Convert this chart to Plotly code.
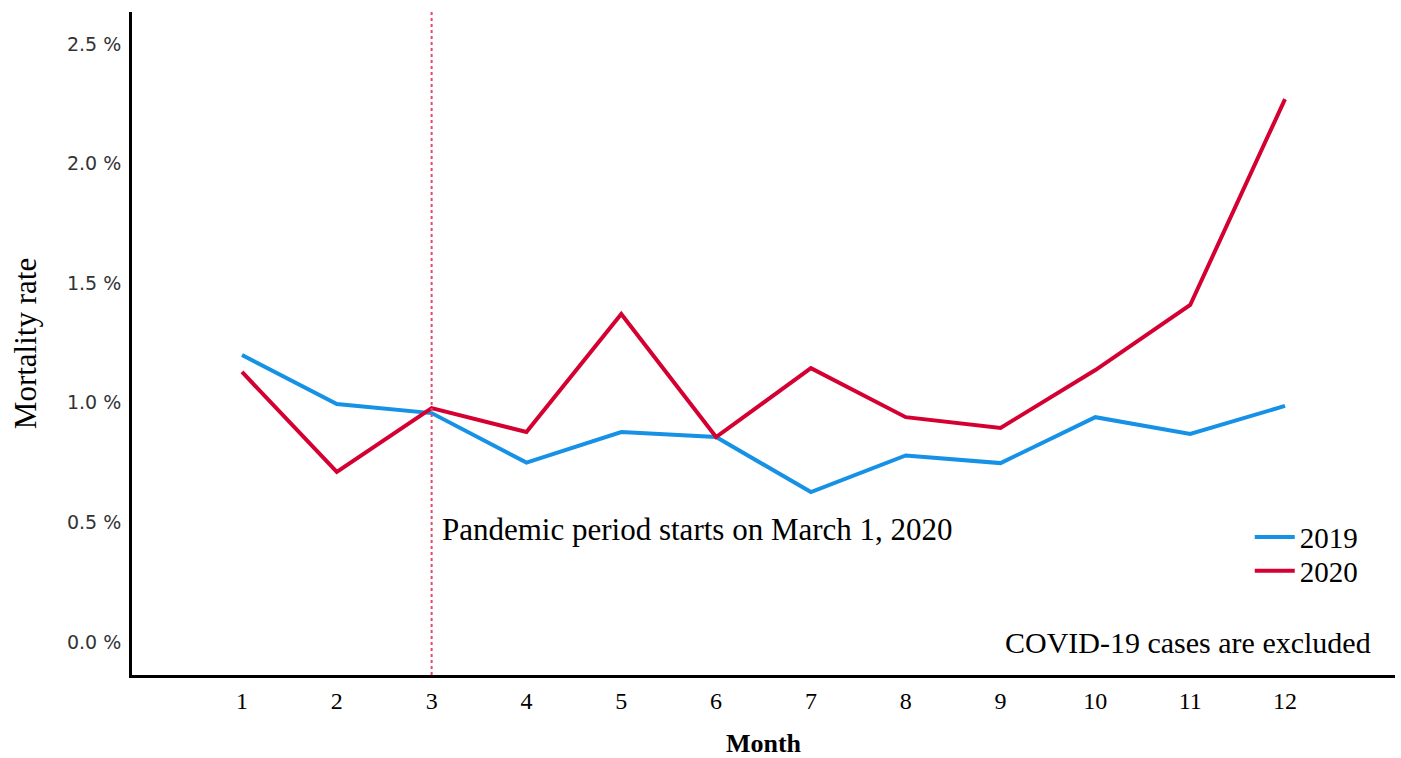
import plotly.graph_objects as go

months = [1, 2, 3, 4, 5, 6, 7, 8, 9, 10, 11, 12]
rate_2019 = [1.20, 0.995, 0.957, 0.75, 0.878, 0.857, 0.627, 0.78, 0.748, 0.94, 0.87, 0.987]
rate_2020 = [1.129, 0.711, 0.978, 0.878, 1.371, 0.857, 1.145, 0.94, 0.895, 1.137, 1.409, 2.27]
y_ticks = [0.0, 0.5, 1.0, 1.5, 2.0, 2.5]
pandemic_month = 3

serif = "Liberation Serif"
fig = go.Figure()
fig.add_trace(go.Scatter(x=months, y=rate_2019, mode="lines", name="2019",
                         line=dict(color="#1591E6", width=4), legend="legend"))
fig.add_trace(go.Scatter(x=months, y=rate_2020, mode="lines", name="2020",
                         line=dict(color="#D50032", width=4), legend="legend2"))

fig.add_shape(type="line", xref="x", yref="paper", x0=pandemic_month, x1=pandemic_month,
              y0=0, y1=1, line=dict(color="#E8456A", width=2, dash="dot"))

fig.add_annotation(x=pandemic_month, y=0.5, xref="x", yref="y", text="Pandemic period starts on March 1, 2020",
                   showarrow=False, xanchor="left", yanchor="middle", xshift=8, yshift=-7,
                   font=dict(family=serif, size=31, color="black"))
fig.add_annotation(x=0.9825, y=0.0, xref="paper", yref="y", text="COVID-19 cases are excluded",
                   showarrow=False, xanchor="right", yanchor="middle", yshift=-1,
                   font=dict(family=serif, size=30, color="black"))

leg_common = dict(xanchor="left", yanchor="middle",
                  font=dict(family=serif, size=29, color="black"),
                  bgcolor="rgba(0,0,0,0)", itemwidth=40)

fig.update_layout(
    width=1401, height=758,
    margin=dict(l=132, r=6, t=12, b=83),
    paper_bgcolor="white", plot_bgcolor="white",
    showlegend=True,
    legend=dict(x=0.885, y=0.208, **leg_common),
    legend2=dict(x=0.885, y=0.157, **leg_common),
    xaxis=dict(range=[-0.16, 13.16], tickvals=months, ticktext=[str(m) for m in months],
               showgrid=False, zeroline=False, showline=True, linecolor="black", linewidth=3,
               ticks="", ticklabelstandoff=2, automargin=False,
               tickfont=dict(family=serif, size=24, color="black"),
               title=dict(text="<b>Month</b>", font=dict(family=serif, size=26, color="black"), standoff=22)),
    yaxis=dict(range=[-0.138, 2.634], tickvals=y_ticks, ticktext=[f"{v:.1f} %" for v in y_ticks],
               showgrid=False, zeroline=False, showline=True, linecolor="black", linewidth=3,
               ticks="", ticklabelstandoff=4, automargin=False,
               tickfont=dict(family="DejaVu Sans", size=19, color="#333"),
               title=dict(text="Mortality rate", font=dict(family=serif, size=31, color="black"), standoff=22)),
)

fig.write_html("out.html", config={"displayModeBar": False},
               post_script="document.body.style.margin='0';")
